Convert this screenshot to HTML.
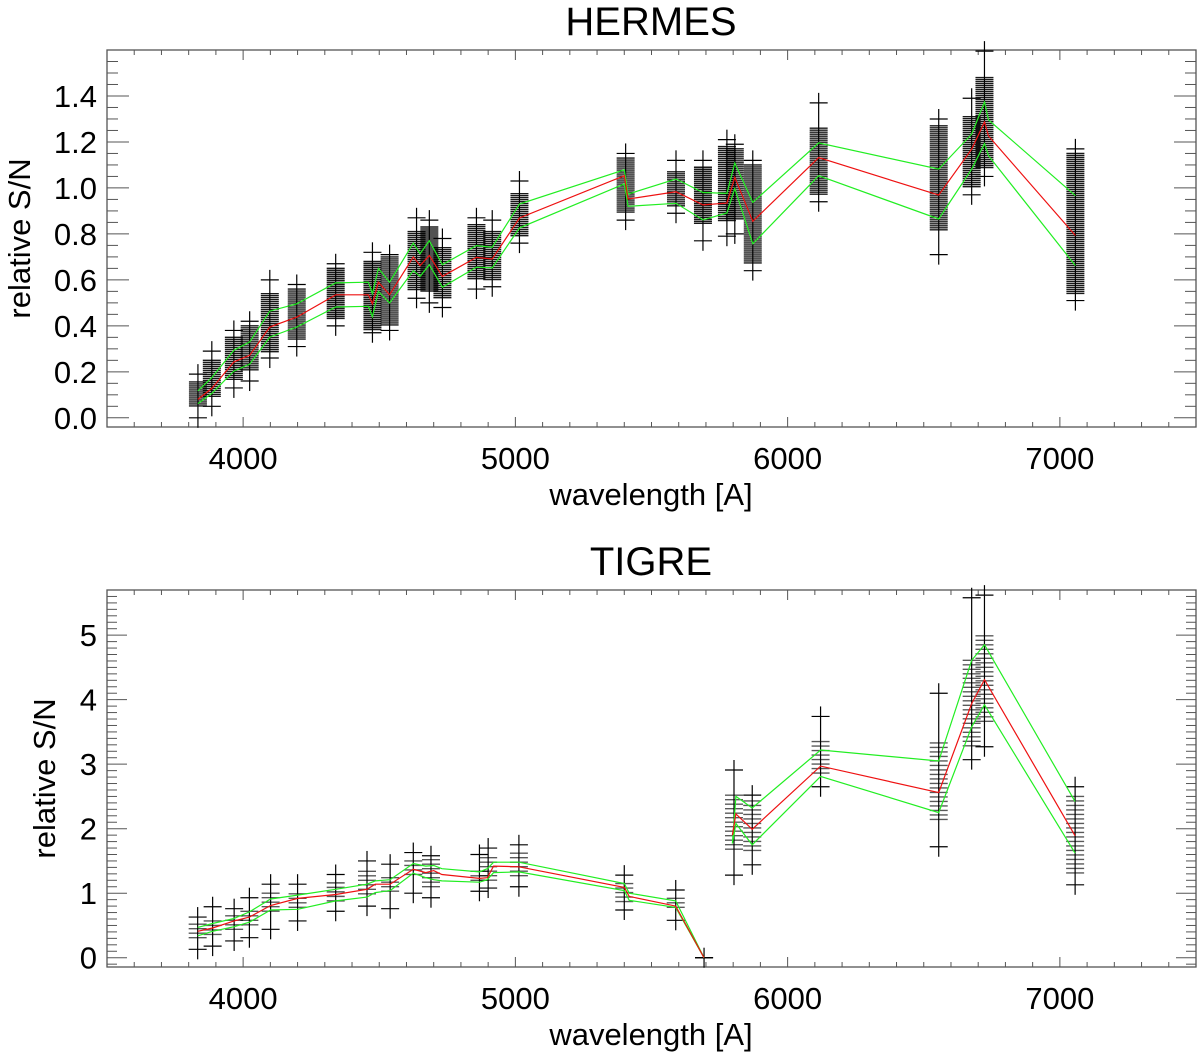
<!DOCTYPE html>
<html><head><meta charset="utf-8"><style>
body{margin:0;background:#fff}
svg text{font-family:"Liberation Sans",Arial,sans-serif;fill:#000}
</style></head><body>
<svg id="c" width="1200" height="1054" viewBox="0 0 1200 1054" xmlns="http://www.w3.org/2000/svg"></svg>
<script>
// HERMES line data
const hWave=[3834,3885,3966,4024,4098,4197,4340,4460,4475,4497,4538,4625,4650,4684,4732,4857,4915,5015,5400,5414,5590,5689,5777,5806,5872,6114,6555,6676,6723,6738,7057];
const hMed=[.08,.128,.243,.272,.395,.438,.535,.535,.496,.59,.535,.70,.662,.706,.615,.698,.691,.869,1.053,.952,.983,.926,.934,1.046,.855,1.132,.969,1.169,1.287,1.226,.793];
const hUp=[.117,.175,.294,.33,.464,.496,.587,.59,.54,.65,.59,.76,.714,.77,.666,.749,.742,.93,1.079,.973,1.039,.98,.976,1.108,.937,1.196,1.082,1.234,1.374,1.296,.966];
const hLo=[.062,.106,.203,.233,.351,.395,.482,.485,.44,.55,.50,.64,.615,.666,.568,.655,.652,.826,1.017,.92,.933,.861,.891,.998,.757,1.053,.865,1.082,1.193,1.14,.662];
// HERMES scatter clusters
const hcWave=[3834,3885,3966,4024,4098,4197,4340,4475,4538,4637,4684,4732,4857,4915,5015,5405,5590,5689,5777,5806,5872,6114,6555,6676,6723,7057];
const hcDLo=[.048,.085,.16,.2,.28,.34,.43,.38,.40,.55,.55,.52,.60,.60,.785,.89,.92,.84,.85,.86,.67,.97,.81,1.0,1.08,.54];
const hcDHi=[.156,.25,.35,.40,.54,.56,.65,.68,.70,.81,.83,.74,.84,.81,.975,1.13,1.07,1.09,1.18,1.17,1.10,1.26,1.27,1.31,1.48,1.15];
const hcWLo=[0,.05,.13,.16,.26,.31,.40,.37,.38,.52,.50,.48,.56,.57,.76,.86,.89,.77,.79,.80,.64,.94,.71,.97,1.05,.51];
const hcWHi=[.19,.29,.38,.42,.60,.58,.67,.72,.71,.87,.86,.78,.87,.86,1.03,1.15,1.12,1.12,1.21,1.19,1.12,1.37,1.30,1.39,1.595,1.17];
// TIGRE line data (segments start at indices in tSeg)
const tWave=[3833,3888,3967,4023,4101,4200,4340,4455,4485,4540,4625,4671,4700,4730,4868,4897,4920,5013,5400,5418,5589,5693,5797,5810,5870,6121,6555,6676,6723,7056];
const tMed=[.41,.46,.57,.63,.81,.92,.98,1.06,1.14,1.14,1.37,1.32,1.35,1.29,1.23,1.24,1.42,1.41,1.09,.95,.80,0,1.9,2.23,1.99,2.97,2.56,3.94,4.31,1.89];
const tUp=[.47,.53,.61,.71,.91,.97,1.06,1.14,1.19,1.21,1.46,1.42,1.43,1.38,1.33,1.38,1.48,1.48,1.15,1.0,.88,0,1.77,2.50,2.32,3.22,3.05,4.61,4.85,2.42];
const tLo=[.34,.41,.48,.55,.74,.75,.88,.94,1.01,1.04,1.31,1.24,1.21,1.19,1.17,1.21,1.32,1.33,1.04,.89,.78,0,1.77,2.08,1.75,2.81,2.25,3.58,3.92,1.62];
const tSeg=[0,22];
// TIGRE scatter clusters
const tcWave=[3833,3888,3967,4023,4101,4200,4340,4455,4540,4625,4690,4868,4900,5013,5400,5589,5693,5803,5870,6121,6555,6676,6723,7056];
const tcDLo=[.26,.31,.39,.47,.67,.72,.85,.96,.98,1.24,1.06,1.14,1.14,1.26,.86,.74,0,1.64,1.61,2.8,2.14,3.27,3.6,1.27];
const tcDHi=[.52,.57,.65,.72,1.0,.99,1.16,1.34,1.24,1.5,1.52,1.34,1.55,1.62,1.15,.92,0,2.52,2.43,3.35,3.33,4.61,4.99,2.5];
const tcWLo=[.13,.18,.26,.31,.44,.57,.72,.8,.76,1.0,.93,1.03,1.08,1.10,.74,.58,0,1.28,1.44,2.65,1.72,3.07,3.27,1.13];
const tcWHi=[.63,.79,.76,.93,1.14,1.14,1.29,1.5,1.45,1.63,1.58,1.6,1.7,1.75,1.28,1.05,0,2.91,2.52,3.74,4.1,5.58,5.62,2.65];
const xTicks=[4000,5000,6000,7000];
const hYTicks=[0,0.2,0.4,0.6,0.8,1.0,1.2,1.4];
const tYTicks=[0,1,2,3,4,5];

const svg=document.getElementById('c');
const NS='http://www.w3.org/2000/svg';
function mk(tag,attrs,parent){const e=document.createElementNS(NS,tag);for(const k in attrs)e.setAttribute(k,attrs[k]);(parent||svg).appendChild(e);return e;}

function panel(o){
  const g=mk('g',{});
  
  
  const L=107,R=1196,T=o.top,B=o.bot;
  const X=v=>L+(v-3500)/4000*(R-L);
  const Y=v=>B-(v-o.ymin)/(o.ymax-o.ymin)*(B-T);
  const fr=mk('rect',{x:L,y:T,width:R-L,height:B-T,fill:'none',stroke:'#555','stroke-width':1.3},g);
  
  
  for(let w=3600;w<=7400;w+=100){const maj=w%1000===0;const len=maj?10:5;
    mk('line',{x1:X(w),x2:X(w),y1:B,y2:B-len,stroke:'#555'},g);
    mk('line',{x1:X(w),x2:X(w),y1:T,y2:T+len,stroke:'#555'},g);}
  xTicks.forEach(w=>{const t=mk('text',{x:X(w),y:B+42,'text-anchor':'middle','font-size':31},g);t.textContent=w;
    
    });
  for(let i=Math.ceil(o.ymin/o.minor);i*o.minor<=o.ymax;i++){const v=i*o.minor;
    const maj=Math.abs(v/o.major-Math.round(v/o.major))<1e-6;const len=maj?o.majLen:o.majLen/2;
    mk('line',{x1:L,x2:L+len,y1:Y(v),y2:Y(v),stroke:'#555'},g);
    mk('line',{x1:R,x2:R-len,y1:Y(v),y2:Y(v),stroke:'#555'},g);}
  o.yTicks.forEach(v=>{const t=mk('text',{x:97,y:Y(v)+11,'text-anchor':'end','font-size':31},g);t.textContent=o.fmt(v);
    
    });
  const tt=mk('text',{x:651,y:T-15,'text-anchor':'middle','font-size':40},g);tt.textContent=o.title;
  
  
  const xt=mk('text',{x:651,y:B+78,'text-anchor':'middle','font-size':31},g);xt.textContent='wavelength [A]';
  
  
  const yt=mk('text',{x:0,y:0,'text-anchor':'middle','font-size':31,transform:`translate(${o.ytx},${(T+B)/2}) rotate(-90)`},g);yt.textContent='relative S/N';
  
  
  const sg=mk('g',{},g);
  
  
  o.cw.forEach((w,i)=>{const cx=X(w);
    const yHi=Y(o.cwh[i]),yLo=Y(o.cwl[i]);
    mk('line',{x1:cx,x2:cx,y1:yHi-10,y2:yLo+10,stroke:'#000','stroke-width':1.2},sg);
    [yHi,yLo].forEach(yy=>mk('line',{x1:cx-9,x2:cx+9,y1:yy,y2:yy,stroke:'#000','stroke-width':1.2},sg));
    const y1=Y(o.cdh[i]),y2=Y(o.cdl[i]);
    for(let yy=y1;yy<=y2+0.01;yy+=o.step){mk('line',{x1:cx-9,x2:cx+9,y1:yy,y2:yy,stroke:'#000','stroke-width':1.4,'stroke-opacity':o.op},sg);}
    if(y2-y1<1) mk('line',{x1:cx-9,x2:cx+9,y1:y1,y2:y1,stroke:'#000','stroke-width':1.2},sg);
  });
  const segs=o.seg||[0];
  [[o.up,'#22ee22','upper-bound-line'],[o.lo,'#22ee22','lower-bound-line'],[o.med,'#ee1111','median-line']].forEach(([arr,col,nm])=>{
    segs.forEach((s,si)=>{const e=si+1<segs.length?segs[si+1]:o.w.length;
      const pts=[];for(let i=s;i<e;i++)pts.push(X(o.w[i]).toFixed(1)+','+Y(arr[i]).toFixed(1));
      const pl=mk('polyline',{points:pts.join(' '),fill:'none',stroke:col,'stroke-width':1.2},g);
      
      });
  });
}
panel({name:'hermes-panel',title:'HERMES',top:50,bot:427,ymin:-0.04,ymax:1.6,minor:0.05,major:0.2,majLen:22,yTicks:hYTicks,fmt:v=>v.toFixed(1),ytx:30,
  w:hWave,med:hMed,up:hUp,lo:hLo,cw:hcWave,cdl:hcDLo,cdh:hcDHi,cwl:hcWLo,cwh:hcWHi,step:2,op:0.9});
panel({name:'tigre-panel',title:'TIGRE',top:590,bot:967,ymin:-0.144,ymax:5.7,minor:0.1,major:1,majLen:20,yTicks:tYTicks,fmt:v=>String(v),ytx:55,
  w:tWave,med:tMed,up:tUp,lo:tLo,seg:tSeg,cw:tcWave,cdl:tcDLo,cdh:tcDHi,cwl:tcWLo,cwh:tcWHi,step:4.5,op:0.65});
</script>
</body></html>
